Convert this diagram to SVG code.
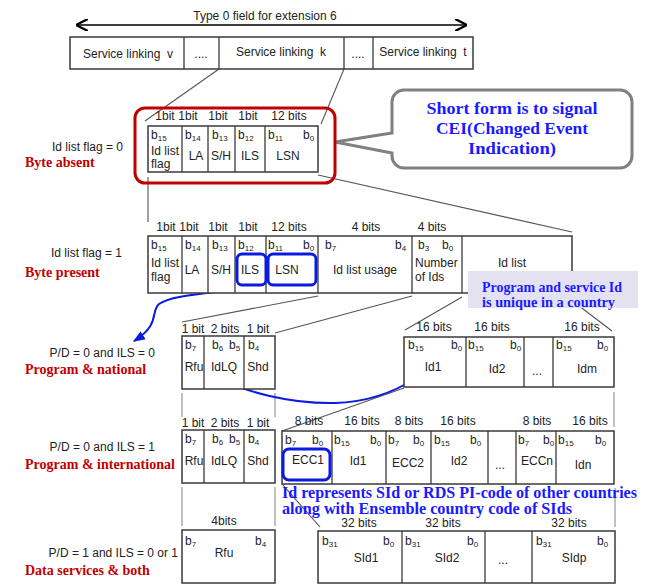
<svg xmlns="http://www.w3.org/2000/svg" width="656" height="584" viewBox="0 0 656 584">
<style>
.box{fill:#fff;stroke:#3a3a3a;stroke-width:1.5}
.dv{stroke:#3a3a3a;stroke-width:1.3}
.t{font-family:"Liberation Sans",Arial,sans-serif;font-size:12px;fill:#222}
.m{text-anchor:middle}
.e{text-anchor:end}
.s{font-size:8px}
.red{font-family:"Liberation Serif","Times New Roman",serif;font-size:14px;font-weight:bold;fill:#c00000}
.blu{font-family:"Liberation Serif","Times New Roman",serif;font-weight:bold;fill:#1a1aff}
.ln{stroke:#555;stroke-width:1.1;fill:none}
.lg{stroke:#b0b0b0;stroke-width:1.6;fill:none}
.bc{stroke:#0a1adf;stroke-width:2;fill:none}
.hl{fill:none;stroke:#0a1adf;stroke-width:3}
</style>
<defs>
<marker id="chev" viewBox="0 0 10 10" refX="10" refY="5" markerWidth="12" markerHeight="12" markerUnits="userSpaceOnUse" orient="auto-start-reverse">
<path d="M0,0 L10,5 L0,10" fill="none" stroke="#000" stroke-width="2"/>
</marker>
<marker id="barr" viewBox="0 0 10 8" refX="9" refY="4" markerWidth="12" markerHeight="10" markerUnits="userSpaceOnUse" orient="auto">
<path d="M0,0 L10,4 L0,8 z" fill="#0a1adf"/>
</marker>
</defs>
<rect width="656" height="584" fill="#fff"/>

<g id="connectors">
<line x1="76" y1="25" x2="467" y2="25" stroke="#000" stroke-width="1.5" marker-start="url(#chev)" marker-end="url(#chev)"/>
<line class="ln" x1="219" y1="69" x2="145" y2="121"/>
<line class="ln" x1="344" y1="69" x2="321" y2="124"/>
<line class="ln" x1="148" y1="177" x2="148" y2="222"/>
<line class="ln" x1="318" y1="175" x2="572" y2="232"/>
<line class="ln" x1="318" y1="296" x2="182" y2="322"/>
<line class="ln" x1="412" y1="296" x2="275" y2="333"/>
<line class="ln" x1="462" y1="297" x2="405" y2="330"/>
<line class="ln" x1="566" y1="296" x2="612" y2="331"/>
<line class="lg" x1="182" y1="393" x2="182" y2="417"/>
<line class="lg" x1="275" y1="393" x2="275" y2="417"/>
<line class="lg" x1="614" y1="392" x2="614" y2="427"/>
<line class="ln" x1="282" y1="431" x2="404" y2="388"/>
<line class="lg" x1="182" y1="487" x2="182" y2="526"/>
<line class="lg" x1="275" y1="487" x2="275" y2="526"/>
<line class="lg" x1="615" y1="488" x2="615" y2="527"/>
<line class="ln" x1="282" y1="484" x2="320" y2="527"/>
<path class="bc" d="M249,287 C220,293 172,294 159,304 C150,312 161,324 134,341" marker-end="url(#barr)"/>
<path class="bc" d="M217,377 C245,392 290,404 335,403 C370,402 396,391 416,378" marker-end="url(#barr)"/>
</g>

<g id="service-linking">
<text class="t m" x="265" y="20">Type 0 field for extension 6</text>
<rect class="box" x="70" y="37" width="403" height="32"/>
<line class="dv" x1="184" y1="37" x2="184" y2="69"/>
<line class="dv" x1="219" y1="37" x2="219" y2="69"/>
<line class="dv" x1="344" y1="37" x2="344" y2="69"/>
<line class="dv" x1="373" y1="37" x2="373" y2="69"/>
<text class="t m" x="128" y="58" xml:space="preserve">Service linking  v</text>
<text class="t m" x="201" y="58">....</text>
<text class="t m" x="281" y="56" xml:space="preserve">Service linking  k</text>
<text class="t m" x="358" y="58">....</text>
<text class="t m" x="423" y="56" xml:space="preserve">Service linking  t</text>
</g>

<g id="callout-cei">
<path d="M404,90 H620 A12,12 0 0 1 632,102 V156 A12,12 0 0 1 620,168 H404 A12,12 0 0 1 392,156 V153 L335,142 L392,133 V102 A12,12 0 0 1 404,90 Z" fill="#fff" stroke="#808080" stroke-width="3"/>
<text class="blu m" x="512" y="114" font-size="17" textLength="171" lengthAdjust="spacingAndGlyphs">Short form is to signal</text>
<text class="blu m" x="512" y="134" font-size="17" textLength="152" lengthAdjust="spacingAndGlyphs">CEI(Changed Event</text>
<text class="blu m" x="512" y="154" font-size="17" textLength="88" lengthAdjust="spacingAndGlyphs">Indication)</text>
</g>

<g id="short-form">
<text class="t e" x="123" y="151">Id list flag = 0</text>
<text class="red" x="25" y="167">Byte absent</text>
<text class="t m" x="165" y="120">1bit</text>
<text class="t m" x="188" y="120">1bit</text>
<text class="t m" x="218" y="120">1bit</text>
<text class="t m" x="248" y="120">1bit</text>
<text class="t m" x="289" y="120">12 bits</text>
<rect class="box" x="148" y="126" width="170" height="46"/>
<line class="dv" x1="182" y1="126" x2="182" y2="172"/>
<line class="dv" x1="208" y1="126" x2="208" y2="172"/>
<line class="dv" x1="235" y1="126" x2="235" y2="172"/>
<line class="dv" x1="265" y1="126" x2="265" y2="172"/>
<text class="t" x="151" y="139">b<tspan class="s" dy="2">15</tspan></text>
<text class="t" x="185" y="139">b<tspan class="s" dy="2">14</tspan></text>
<text class="t" x="212" y="139">b<tspan class="s" dy="2">13</tspan></text>
<text class="t" x="238" y="139">b<tspan class="s" dy="2">12</tspan></text>
<text class="t" x="268" y="139">b<tspan class="s" dy="2">11</tspan></text>
<text class="t" x="303" y="139">b<tspan class="s" dy="2">0</tspan></text>
<text class="t" x="151" y="155">Id list</text>
<text class="t" x="151" y="168">flag</text>
<text class="t m" x="196" y="160">LA</text>
<text class="t m" x="221" y="160">S/H</text>
<text class="t m" x="250" y="160">ILS</text>
<text class="t m" x="288" y="160">LSN</text>
<rect x="135" y="108" width="200" height="75" rx="10" fill="none" stroke="#c00000" stroke-width="3"/>
</g>

<g id="long-form">
<text class="t e" x="122" y="257">Id list flag = 1</text>
<text class="red" x="25" y="277">Byte present</text>
<text class="t m" x="166" y="231">1bit</text>
<text class="t m" x="189" y="231">1bit</text>
<text class="t m" x="218" y="231">1bit</text>
<text class="t m" x="248" y="231">1bit</text>
<text class="t m" x="289" y="231">12 bits</text>
<text class="t m" x="366" y="231">4 bits</text>
<text class="t m" x="432" y="231">4 bits</text>
<rect class="box" x="148" y="236" width="424" height="57"/>
<line class="dv" x1="182" y1="236" x2="182" y2="293"/>
<line class="dv" x1="208" y1="236" x2="208" y2="293"/>
<line class="dv" x1="235" y1="236" x2="235" y2="293"/>
<line class="dv" x1="266" y1="236" x2="266" y2="293"/>
<line class="dv" x1="318" y1="236" x2="318" y2="293"/>
<line class="dv" x1="412" y1="236" x2="412" y2="293"/>
<line class="dv" x1="462" y1="236" x2="462" y2="293"/>
<text class="t" x="151" y="249">b<tspan class="s" dy="2">15</tspan></text>
<text class="t" x="185" y="249">b<tspan class="s" dy="2">14</tspan></text>
<text class="t" x="212" y="249">b<tspan class="s" dy="2">13</tspan></text>
<text class="t" x="238" y="249">b<tspan class="s" dy="2">12</tspan></text>
<text class="t" x="268" y="249">b<tspan class="s" dy="2">11</tspan></text>
<text class="t" x="303" y="249">b<tspan class="s" dy="2">0</tspan></text>
<text class="t" x="325" y="249">b<tspan class="s" dy="2">7</tspan></text>
<text class="t" x="395" y="249">b<tspan class="s" dy="2">4</tspan></text>
<text class="t" x="418" y="249">b<tspan class="s" dy="2">3</tspan></text>
<text class="t" x="442" y="249">b<tspan class="s" dy="2">0</tspan></text>
<text class="t" x="151" y="267">Id list</text>
<text class="t" x="151" y="281">flag</text>
<text class="t m" x="192" y="274">LA</text>
<text class="t m" x="221" y="274">S/H</text>
<text class="t m" x="250" y="274">ILS</text>
<text class="t m" x="287" y="274">LSN</text>
<text class="t m" x="365" y="274">Id list usage</text>
<text class="t" x="415" y="267">Number</text>
<text class="t" x="415" y="281">of Ids</text>
<text class="t m" x="512" y="267">Id list</text>
<rect class="hl" x="237" y="254" width="29" height="31" rx="5"/>
<rect class="hl" x="268" y="254" width="48" height="31" rx="5"/>
</g>

<g id="callout-unique">
<rect x="468" y="271" width="170" height="37" fill="#e4e1f1"/>
<text class="blu" x="482" y="292" font-size="15" textLength="140" lengthAdjust="spacingAndGlyphs">Program and service Id</text>
<text class="blu" x="482" y="307" font-size="15" textLength="133" lengthAdjust="spacingAndGlyphs">is unique in a country</text>
</g>

<g id="program-national">
<text class="t e" x="155" y="357">P/D = 0 and ILS = 0</text>
<text class="red" x="25" y="374">Program &amp; national</text>
<text class="t m" x="193" y="333">1 bit</text>
<text class="t m" x="225" y="333">2 bits</text>
<text class="t m" x="258" y="333">1 bit</text>
<rect class="box" x="182" y="336" width="93" height="53"/>
<line class="dv" x1="204" y1="336" x2="204" y2="389"/>
<line class="dv" x1="244" y1="336" x2="244" y2="389"/>
<text class="t" x="185" y="349">b<tspan class="s" dy="2">7</tspan></text>
<text class="t" x="212" y="349">b<tspan class="s" dy="2">6</tspan></text>
<text class="t" x="229" y="349">b<tspan class="s" dy="2">5</tspan></text>
<text class="t" x="248" y="349">b<tspan class="s" dy="2">4</tspan></text>
<text class="t m" x="194" y="371">Rfu</text>
<text class="t m" x="224" y="371">IdLQ</text>
<text class="t m" x="258" y="371">Shd</text>
</g>

<g id="id-list-national">
<text class="t m" x="434" y="331">16 bits</text>
<text class="t m" x="492" y="331">16 bits</text>
<text class="t m" x="582" y="331">16 bits</text>
<rect class="box" x="404" y="337" width="210" height="50"/>
<line class="dv" x1="466" y1="337" x2="466" y2="387"/>
<line class="dv" x1="524" y1="337" x2="524" y2="387"/>
<line class="dv" x1="553" y1="337" x2="553" y2="387"/>
<text class="t" x="408" y="349">b<tspan class="s" dy="2">15</tspan></text>
<text class="t" x="451" y="349">b<tspan class="s" dy="2">0</tspan></text>
<text class="t" x="468" y="349">b<tspan class="s" dy="2">15</tspan></text>
<text class="t" x="510" y="349">b<tspan class="s" dy="2">0</tspan></text>
<text class="t" x="556" y="349">b<tspan class="s" dy="2">15</tspan></text>
<text class="t" x="597" y="349">b<tspan class="s" dy="2">0</tspan></text>
<text class="t m" x="433" y="371">Id1</text>
<text class="t m" x="497" y="373">Id2</text>
<text class="t m" x="537" y="375">...</text>
<text class="t m" x="587" y="373">Idm</text>
</g>

<g id="program-international">
<text class="t e" x="155" y="451">P/D = 0 and ILS = 1</text>
<text class="red" x="25" y="469">Program &amp; international</text>
<text class="t m" x="193" y="427">1 bit</text>
<text class="t m" x="225" y="427">2 bits</text>
<text class="t m" x="258" y="427">1 bit</text>
<rect class="box" x="182" y="430" width="93" height="53"/>
<line class="dv" x1="204" y1="430" x2="204" y2="483"/>
<line class="dv" x1="244" y1="430" x2="244" y2="483"/>
<text class="t" x="185" y="443">b<tspan class="s" dy="2">7</tspan></text>
<text class="t" x="212" y="443">b<tspan class="s" dy="2">6</tspan></text>
<text class="t" x="229" y="443">b<tspan class="s" dy="2">5</tspan></text>
<text class="t" x="248" y="443">b<tspan class="s" dy="2">4</tspan></text>
<text class="t m" x="194" y="465">Rfu</text>
<text class="t m" x="224" y="465">IdLQ</text>
<text class="t m" x="258" y="465">Shd</text>
</g>

<g id="id-list-international">
<text class="t m" x="309" y="425">8 bits</text>
<text class="t m" x="362" y="425">16 bits</text>
<text class="t m" x="409" y="425">8 bits</text>
<text class="t m" x="458" y="425">16 bits</text>
<text class="t m" x="537" y="425">8 bits</text>
<text class="t m" x="590" y="425">16 bits</text>
<rect class="box" x="282" y="431" width="332" height="53"/>
<line class="dv" x1="332" y1="431" x2="332" y2="484"/>
<line class="dv" x1="386" y1="431" x2="386" y2="484"/>
<line class="dv" x1="431" y1="431" x2="431" y2="484"/>
<line class="dv" x1="488" y1="431" x2="488" y2="484"/>
<line class="dv" x1="516" y1="431" x2="516" y2="484"/>
<line class="dv" x1="556" y1="431" x2="556" y2="484"/>
<text class="t" x="285" y="444">b<tspan class="s" dy="2">7</tspan></text>
<text class="t" x="312" y="444">b<tspan class="s" dy="2">0</tspan></text>
<text class="t" x="334" y="444">b<tspan class="s" dy="2">15</tspan></text>
<text class="t" x="370" y="444">b<tspan class="s" dy="2">0</tspan></text>
<text class="t" x="388" y="444">b<tspan class="s" dy="2">7</tspan></text>
<text class="t" x="413" y="444">b<tspan class="s" dy="2">0</tspan></text>
<text class="t" x="434" y="444">b<tspan class="s" dy="2">15</tspan></text>
<text class="t" x="470" y="444">b<tspan class="s" dy="2">0</tspan></text>
<text class="t" x="518" y="444">b<tspan class="s" dy="2">7</tspan></text>
<text class="t" x="543" y="444">b<tspan class="s" dy="2">0</tspan></text>
<text class="t" x="558" y="444">b<tspan class="s" dy="2">15</tspan></text>
<text class="t" x="595" y="444">b<tspan class="s" dy="2">0</tspan></text>
<text class="t m" x="308" y="464">ECC1</text>
<text class="t m" x="358" y="465">Id1</text>
<text class="t m" x="408" y="467">ECC2</text>
<text class="t m" x="459" y="465">Id2</text>
<text class="t m" x="500" y="469">...</text>
<text class="t m" x="537" y="465">ECCn</text>
<text class="t m" x="583" y="469">Idn</text>
<rect class="hl" x="283" y="449" width="47" height="31" rx="6"/>
</g>

<g id="note-id-represents">
<text class="blu" x="282" y="498" font-size="17" textLength="355" lengthAdjust="spacingAndGlyphs">Id represents SId or RDS PI-code of other countries</text>
<text class="blu" x="282" y="514" font-size="17" textLength="290" lengthAdjust="spacingAndGlyphs">along with Ensemble country code of SIds</text>
</g>

<g id="data-services">
<text class="t e" x="178" y="557">P/D = 1 and ILS = 0 or 1</text>
<text class="red" x="25" y="575">Data services &amp; both</text>
<text class="t m" x="224" y="525">4bits</text>
<rect class="box" x="182" y="530" width="93" height="53"/>
<text class="t" x="185" y="545">b<tspan class="s" dy="2">7</tspan></text>
<text class="t" x="255" y="545">b<tspan class="s" dy="2">4</tspan></text>
<text class="t m" x="224" y="557">Rfu</text>
</g>

<g id="sid-list">
<text class="t m" x="359" y="527">32 bits</text>
<text class="t m" x="443" y="527">32 bits</text>
<text class="t m" x="569" y="527">32 bits</text>
<rect class="box" x="318" y="531" width="297" height="52"/>
<line class="dv" x1="402" y1="531" x2="402" y2="583"/>
<line class="dv" x1="485" y1="531" x2="485" y2="583"/>
<line class="dv" x1="532" y1="531" x2="532" y2="583"/>
<text class="t" x="322" y="545">b<tspan class="s" dy="2">31</tspan></text>
<text class="t" x="383" y="545">b<tspan class="s" dy="2">0</tspan></text>
<text class="t" x="405" y="545">b<tspan class="s" dy="2">31</tspan></text>
<text class="t" x="467" y="545">b<tspan class="s" dy="2">0</tspan></text>
<text class="t" x="536" y="545">b<tspan class="s" dy="2">31</tspan></text>
<text class="t" x="597" y="545">b<tspan class="s" dy="2">0</tspan></text>
<text class="t m" x="366" y="562">SId1</text>
<text class="t m" x="447" y="562">SId2</text>
<text class="t m" x="503" y="564">...</text>
<text class="t m" x="574" y="562">SIdp</text>
</g>
</svg>
